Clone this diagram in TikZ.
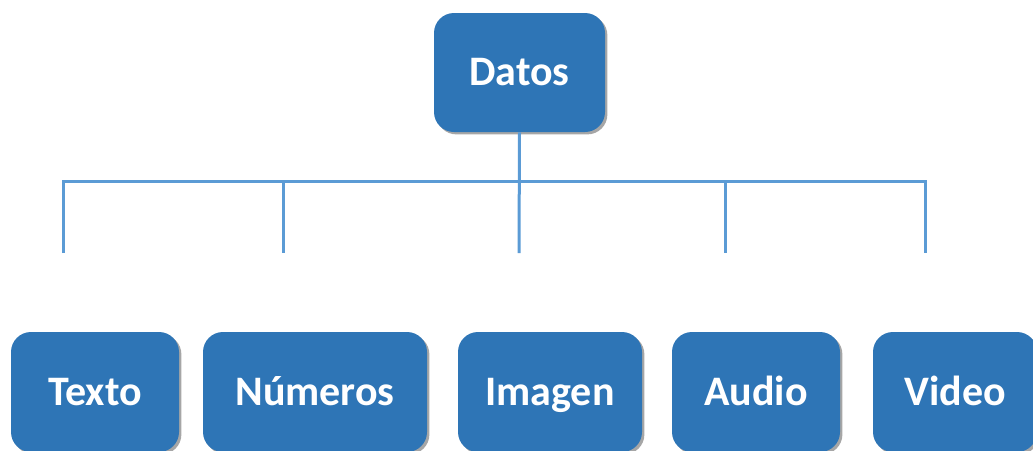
\documentclass[tikz,border=0pt]{standalone}
\usepackage{fontspec}
\setmainfont{Carlito}
\usetikzlibrary{positioning,shadows}
\definecolor{boxblue}{HTML}{2E75B6}
\definecolor{lineblue}{HTML}{5B9BD5}
\tikzset{
  databox/.style = {shape=rectangle, rounded corners=10pt,
                    fill=boxblue, text=white, inner sep=0pt,
                    text height=16pt, text depth=3pt,
                    font=\fontsize{21}{25}\selectfont\bfseries,
                    drop shadow={shadow xshift=1.2pt, shadow yshift=-1.2pt,
                                 opacity=0.35, fill=black}},
  root/.style     = {databox, minimum width=85.5pt, minimum height=59.5pt},
  leaf/.style     = {databox, minimum height=60pt},
  link/.style     = {draw=lineblue, line width=1.5pt}
}
\begin{document}
\begin{tikzpicture}
  [
    x = 0.5pt,
    y = -0.5pt
  ]
\useasboundingbox (0,0) rectangle (1033,450);

\node [root] (datos) at (519.5,72.5) {Datos};

\node [leaf, minimum width=84pt]  (texto)   at (95,392)  {Texto};
\node [leaf, minimum width=112pt] (numeros) at (315,392) {Números};
\node [leaf, minimum width=92pt]  (imagen)  at (550,392) {Imagen};
\node [leaf, minimum width=84pt]  (audio)   at (756,392) {Audio};
\node [leaf, minimum width=82pt]  (video)   at (955,392) {Video};

% bus and drops (they stop short of the boxes)
\coordinate (bus) at (519,181);
\coordinate (d1) at (63,253);
\coordinate (d2) at (283,253);
\coordinate (d3) at (519,253);
\coordinate (d4) at (725,253);
\coordinate (d5) at (925,253);

\draw [link] (datos.south) -- (d3);
\draw [link] (d1) |- (bus) -| (d5);
\draw [link] (d2 |- bus) -- (d2);
\draw [link] (d4 |- bus) -- (d4);
\end{tikzpicture}
\end{document}
